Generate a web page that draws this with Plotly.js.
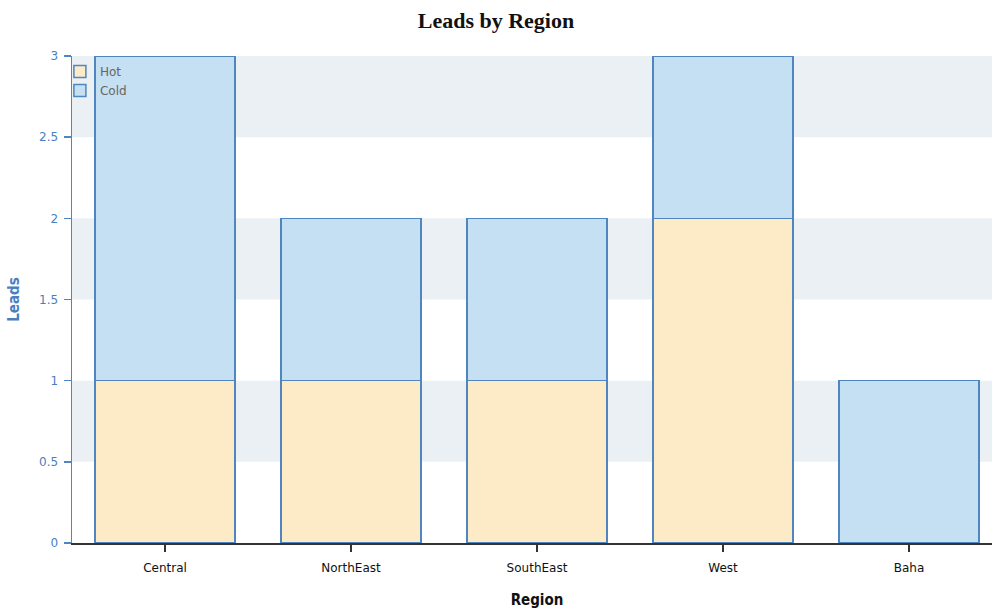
<!DOCTYPE html>
<html>
<head>
<meta charset="utf-8">
<script src="https://cdn.plot.ly/plotly-3.0.1.min.js"></script>
<style>
html,body{margin:0;padding:0;overflow:hidden;background:#fff;}
#chart{width:1002px;height:609px;}
</style>
</head>
<body>
<div id="chart"></div>
<script>
const regions = ["Central", "NorthEast", "SouthEast", "West", "Baha"];
const hotLeads = [1, 1, 1, 2, 0];
const coldLeads = [2, 1, 1, 1, 1];
const yTicks = [0, 0.5, 1, 1.5, 2, 2.5, 3];
const yTickText = ["0", "0.5", "1", "1.5", "2", "2.5", "3"];
const bandRanges = [[0.5, 1], [1.5, 2], [2.5, 3]];

const lineColor = "#4f86c0";
const traces = [
  {type: "bar", name: "Hot", x: regions, y: hotLeads,
   marker: {color: "#fdebc8", line: {color: lineColor, width: 1.5}}},
  {type: "bar", name: "Cold", x: regions, y: coldLeads,
   marker: {color: "#c5dff3", line: {color: lineColor, width: 1.5}}}
];

const shapes = bandRanges.map(r => ({
  type: "rect", xref: "paper", yref: "y", x0: 0, x1: 1, y0: r[0], y1: r[1],
  fillcolor: "#ebf0f5", line: {width: 0}, layer: "below"
}));

const layout = {
  width: 1002, height: 609,
  margin: {l: 72, r: 0, t: 56, b: 66},
  paper_bgcolor: "#fff", plot_bgcolor: "rgba(0,0,0,0)",
  barmode: "stack", bargap: 0.247,
  showlegend: true,
  title: {text: "<b>Leads by Region</b>", x: 0.495, xanchor: "center", y: 0.967, yanchor: "middle",
          font: {family: "Liberation Serif, DejaVu Serif, serif", size: 22, color: "#111"}},
  legend: {x: -0.013, y: 0.998, xanchor: "left", yanchor: "top", bgcolor: "rgba(0,0,0,0)",
           font: {family: "DejaVu Sans, sans-serif", size: 12, color: "#666"},
           traceorder: "normal", itemwidth: 30, tracegroupgap: 0},
  xaxis: {
    type: "category", showgrid: false, zeroline: false,
    showline: true, linecolor: "#333", linewidth: 1.5,
    ticks: "outside", ticklen: 7, tickcolor: "#333", tickwidth: 1.5,
    ticklabelstandoff: 6,
    tickfont: {family: "DejaVu Sans, sans-serif", size: 12, color: "#111"},
    title: {text: "<b>Region</b>", standoff: 20,
            font: {family: "Liberation Sans Narrow, DejaVu Sans Condensed, sans-serif", size: 15, color: "#111"}}
  },
  yaxis: {
    range: [0, 3], tickvals: yTicks, ticktext: yTickText,
    showgrid: false, zeroline: false,
    showline: true, linecolor: lineColor, linewidth: 1.5,
    ticks: "outside", ticklen: 7, tickcolor: lineColor, tickwidth: 1.5,
    ticklabelstandoff: 3,
    tickfont: {family: "DejaVu Sans, sans-serif", size: 12, color: "#4a7fbf"},
    title: {text: "<b>Leads</b>", standoff: 16,
            font: {family: "Liberation Sans Narrow, DejaVu Sans Condensed, sans-serif", size: 15, color: "#4a7fbf"}}
  },
  shapes: shapes
};

Plotly.newPlot("chart", traces, layout, {displayModeBar: false, staticPlot: true});
</script>
</body>
</html>
